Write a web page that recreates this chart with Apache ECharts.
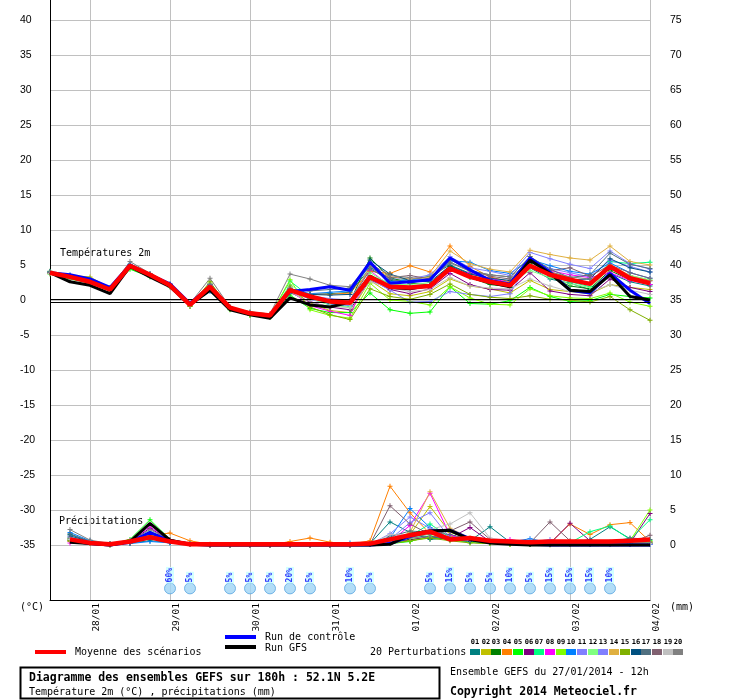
<!DOCTYPE html>
<html>
<head>
<meta charset="utf-8">
<script src="https://cdn.jsdelivr.net/npm/echarts@6/dist/echarts.min.js"></script>
<style>
  html, body { margin: 0; padding: 0; background: #fff; }
  #chart { width: 740px; height: 700px; }
</style>
</head>
<body>
<div id="chart"></div>
<script>
// time axis: 6h steps from 27/01 12h to 04/02 12h (180h)
const dayLabels = ['27/01', '28/01', '29/01', '30/01', '31/01', '01/02', '02/02', '03/02', '04/02'];
const hourLabels = ['00h', '06h', '12h', '18h'];

// temperature 2m (°C), one value per 6h step
const tMean = [3.9, 3.3, 2.6, 1.5, 4.9, 3.6, 2.1, -0.7, 1.9, -1.1, -1.9, -2.2, 1.4, 0.5, -0.2, -0.4, 3.3, 1.9, 1.8, 2.0, 4.5, 3.3, 2.6, 2.1, 4.9, 3.6, 2.9, 2.3, 4.8, 3.1, 2.4];
const tGfs = [3.9, 2.6, 2.1, 0.9, 4.8, 3.3, 1.9, -0.7, 1.4, -1.4, -2.1, -2.6, 0.3, -0.7, -1.0, -0.3, 3.4, 1.8, 1.6, 2.1, 4.6, 3.3, 2.5, 1.9, 5.7, 3.8, 1.4, 1.2, 3.6, 0.5, 0.0];
const tCtrl = [3.9, 3.6, 3.0, 1.8, 5.0, 3.6, 2.3, -0.5, 1.9, -1.2, -1.9, -2.2, 1.2, 1.5, 1.9, 1.4, 5.4, 2.4, 2.6, 2.9, 6.0, 4.3, 2.8, 2.3, 6.0, 4.0, 1.4, 1.0, 3.8, 1.4, -0.5];
const t01 = [4.0, 3.4, 2.7, 1.6, 4.8, 3.5, 2.2, -0.6, 1.8, -1.2, -2.0, -2.3, 1.0, 0.8, 0.9, 1.1, 4.5, 2.8, 2.9, 3.4, 5.0, 3.8, 3.0, 1.8, 4.6, 3.0, 2.4, 1.5, 3.8, 2.6, 2.0];
const t02 = [3.8, 3.5, 3.3, 1.7, 5.0, 3.6, 2.0, -0.7, 2.4, -1.0, -1.7, -2.0, 1.8, -0.5, -1.5, -1.8, 2.8, 0.9, 0.6, 1.2, 3.0, 2.0, 1.6, 1.0, 2.8, 1.5, 1.2, 0.9, 2.2, 1.8, 1.5];
const t03 = [4.1, 3.3, 2.5, 1.4, 4.9, 3.7, 2.2, -0.8, 2.2, -1.2, -2.0, -2.3, 1.5, 0.2, -0.5, -0.3, 6.0, 3.2, 2.4, 2.2, 4.8, 3.2, 2.2, 1.9, 5.2, 3.3, 2.0, 1.6, 4.2, 2.9, 2.2];
const t04 = [3.9, 3.2, 2.6, 1.4, 4.7, 3.4, 2.0, -0.9, 1.9, -1.3, -2.1, -2.4, 1.2, 0.9, 0.8, 1.0, 4.1, 3.8, 4.9, 4.0, 7.7, 4.8, 3.3, 2.6, 6.2, 4.0, 3.2, 2.2, 5.0, 3.5, 2.8];
const t05 = [3.7, 3.0, 2.4, 1.3, 4.4, 3.3, 1.9, -0.9, 1.6, -1.4, -2.2, -2.5, 0.7, -1.2, -1.8, -1.8, 1.0, -1.4, -1.9, -1.7, 1.9, -0.5, -0.6, -0.1, 1.8, 0.5, -0.2, -0.1, 0.8, 0.5, 0.3];
const t06 = [3.8, 3.1, 2.5, 1.4, 4.8, 3.6, 2.0, -0.8, 1.7, -1.2, -2.0, -2.3, 1.1, -0.3, -1.0, -1.4, 2.9, 1.5, 0.9, 1.6, 3.8, 2.2, 1.5, 1.4, 3.9, 1.3, 0.8, 0.6, 3.0, 1.8, 1.2];
const t07 = [3.9, 3.3, 2.7, 1.6, 4.8, 3.5, 2.2, -0.6, 2.0, -1.1, -1.9, -2.2, 2.7, 0.5, -0.6, -0.9, 3.5, 2.4, 1.9, 2.1, 4.3, 3.2, 2.7, 2.2, 5.0, 3.4, 2.6, 1.9, 5.5, 5.2, 5.4];
const t08 = [3.8, 3.4, 2.6, 1.5, 4.9, 3.6, 2.1, -0.7, 2.1, -1.1, -1.9, -2.3, 1.4, -0.8, -1.6, -2.2, 4.2, 2.0, 1.5, 1.9, 4.1, 3.9, 3.1, 2.5, 5.5, 4.2, 3.6, 3.2, 3.9, 2.8, 2.2];
const t09 = [3.9, 3.2, 2.5, 1.4, 4.7, 3.5, 2.0, -0.8, 2.4, -1.2, -2.0, -2.3, 2.9, -1.4, -2.2, -2.6, 2.4, 0.0, -0.2, -0.7, 1.9, 0.3, -0.6, -0.7, 1.6, 0.6, 0.3, 0.2, 1.0, -0.3, -0.9];
const t10 = [4.0, 3.6, 3.0, 1.8, 5.1, 3.7, 2.3, -0.5, 1.2, -1.1, -1.8, -2.1, 1.6, 0.9, 1.1, 1.3, 5.0, 2.6, 2.9, 2.8, 5.6, 5.4, 4.2, 3.8, 5.8, 4.9, 4.1, 3.7, 5.3, 3.9, 3.1];
const t11 = [3.9, 3.4, 2.8, 1.7, 5.0, 3.6, 2.2, -0.7, 2.0, -1.0, -1.8, -2.1, 1.3, 0.1, -0.6, -0.8, 3.0, 1.4, -0.3, -0.2, 1.2, 0.8, 0.5, 0.9, 5.6, 4.5, 3.9, 3.3, 5.7, 4.8, 4.0];
const t12 = [4.0, 3.3, 2.6, 1.5, 4.9, 3.6, 2.2, -0.6, 1.9, -1.1, -1.9, -2.2, 2.2, 0.3, -0.8, -1.0, 3.9, 2.2, 2.2, 2.5, 4.6, 3.2, 2.8, 2.5, 4.2, 3.2, 2.3, 1.8, 4.5, 3.5, 2.9];
const t13 = [3.9, 3.3, 2.7, 1.6, 5.0, 3.7, 2.3, -0.6, 2.3, -1.1, -1.9, -2.2, 1.7, 0.6, 0.2, 0.0, 4.6, 3.2, 3.0, 3.6, 6.2, 4.6, 4.1, 3.5, 6.8, 5.9, 5.1, 4.5, 7.0, 5.2, 4.4];
const t14 = [3.8, 3.2, 2.6, 1.5, 4.8, 3.5, 2.1, -0.8, 2.0, -1.2, -2.0, -2.3, 1.4, 0.4, -0.1, -0.3, 4.8, 3.3, 3.0, 3.3, 7.0, 5.2, 4.4, 4.0, 7.1, 6.5, 6.0, 5.7, 7.7, 5.5, 5.0];
const t15 = [3.8, 3.1, 2.4, 1.3, 4.6, 3.4, 1.9, -0.9, 2.6, -1.3, -2.1, -2.4, 2.0, -1.0, -2.1, -2.8, 1.6, 0.5, 0.1, 0.8, 2.3, 0.8, 0.4, 0.2, 0.6, 0.1, 0.0, -0.3, 0.5, -1.4, -2.9];
const t16 = [4.0, 3.4, 2.8, 1.6, 5.0, 3.6, 2.2, -0.6, 1.9, -1.1, -1.9, -2.2, 1.3, 0.8, 0.7, 0.8, 5.7, 3.7, 2.8, 2.6, 4.9, 3.7, 3.1, 2.8, 5.0, 3.7, 2.9, 3.0, 5.9, 4.6, 4.0];
const t17 = [3.9, 3.3, 2.6, 1.5, 4.9, 3.6, 2.1, -0.7, 2.0, -1.1, -1.9, -2.2, 1.5, 1.3, 1.5, 1.7, 4.7, 3.0, 2.4, 3.1, 5.4, 4.2, 3.6, 3.3, 6.2, 4.4, 3.2, 3.6, 6.7, 5.1, 4.5];
const t18 = [3.9, 3.3, 2.6, 1.5, 4.9, 3.6, 2.1, -0.7, 2.1, -1.1, -1.9, -2.2, 1.6, 0.4, -0.1, -0.1, 4.3, 3.2, 3.5, 3.0, 5.8, 4.2, 3.4, 3.0, 5.4, 4.2, 4.6, 3.4, 5.0, 3.9, 3.1];
const t19 = [3.8, 3.3, 2.6, 1.5, 4.8, 3.4, 1.9, -0.8, 1.8, -1.2, -2.0, -2.4, 1.2, -0.4, -0.9, -1.1, 2.6, 1.8, 1.2, 1.5, 3.2, 2.0, 1.7, 1.6, 3.0, 2.0, 1.2, 1.1, 2.2, 1.4, 0.8];
const t20 = [4.0, 3.4, 2.7, 1.6, 5.5, 3.8, 2.3, -0.5, 3.1, -1.0, -1.7, -2.0, 3.7, 3.0, 2.1, 1.9, 5.2, 3.5, 3.2, 2.9, 5.3, 4.1, 3.6, 3.3, 5.4, 4.0, 3.3, 3.0, 4.4, 3.3, 2.7];

// precipitation (mm per 6h), first step has no value
const pMean = [null, 0.8, 0.3, 0.1, 0.5, 1.1, 0.5, 0.1, 0.1, 0.1, 0.1, 0.1, 0.1, 0.1, 0.1, 0.1, 0.2, 0.8, 1.4, 1.9, 0.8, 1.0, 0.6, 0.5, 0.4, 0.5, 0.5, 0.5, 0.5, 0.6, 0.8];
const pGfs = [null, 0.4, 0.2, 0, 0.5, 3.1, 0.7, 0.1, 0, 0, 0, 0, 0, 0, 0, 0, 0, 0.1, 1.5, 2.0, 2.1, 0.8, 0.3, 0.1, 0, 0, 0, 0, 0, 0, 0];
const pCtrl = [null, 0.6, 0.2, 0, 0.4, 1.8, 0.6, 0.1, 0, 0, 0, 0, 0, 0, 0, 0, 0, 0.2, 1.2, 2.0, 2.1, 0.9, 0.4, 0.2, 0.1, 0, 0, 0, 0, 0, 0];
const p01 = [null, 1.5, 0.5, 0.1, 0.3, 0.6, 0.4, 0.1, 0, 0, 0, 0, 0, 0, 0, 0, 0.2, 3.3, 1.8, 0.8, 1.0, 0.6, 2.6, 0.4, 0.1, 0.1, 0.3, 0.8, 2.6, 0.9, 0.3];
const p02 = [null, 0.5, 0.3, 0, 0.4, 1.2, 0.6, 0.1, 0, 0, 0, 0, 0, 0, 0, 0, 0.1, 0.6, 1.5, 5.5, 1.8, 0.9, 0.3, 0.2, 0.1, 0, 0.1, 0.1, 0.2, 0.1, 0.2];
const p03 = [null, 0.8, 0.3, 0, 0.3, 1.5, 0.5, 0.1, 0, 0, 0, 0, 0, 0, 0, 0, 0.1, 0.4, 0.8, 1.0, 0.9, 0.5, 0.3, 0.2, 0.1, 0.1, 0.1, 0.1, 0.2, 0.1, 0.1];
const p04 = [null, 0.9, 0.4, 0.1, 0.3, 1.4, 1.7, 0.6, 0.1, 0, 0, 0, 0.5, 1.0, 0.4, 0.1, 0.6, 8.4, 4.6, 1.6, 1.2, 0.6, 0.4, 0.3, 0.1, 0.3, 3.0, 1.5, 2.9, 3.2, 0.5];
const p05 = [null, 0.7, 0.3, 0.1, 0.8, 3.6, 0.8, 0.1, 0, 0, 0, 0, 0, 0, 0, 0, 0.1, 0.2, 0.5, 1.3, 0.8, 0.4, 0.2, 0.1, 0.1, 0.1, 0.2, 0.2, 0.2, 0.5, 0.6];
const p06 = [null, 0.6, 0.3, 0.1, 0.5, 2.4, 0.7, 0.1, 0, 0, 0, 0, 0, 0, 0, 0, 0.1, 0.3, 0.7, 1.2, 1.0, 2.5, 0.5, 0.2, 0.1, 0.2, 3.1, 0.6, 0.3, 0.3, 4.5];
const p07 = [null, 0.9, 0.4, 0.1, 0.3, 1.6, 0.6, 0.1, 0, 0, 0, 0, 0, 0, 0, 0, 0.1, 0.5, 1.3, 3.0, 1.1, 0.5, 0.3, 0.2, 0.1, 0.1, 0.3, 1.9, 2.7, 0.8, 3.6];
const p08 = [null, 0.3, 0.2, 0.1, 0.6, 2.6, 0.7, 0.1, 0, 0, 0, 0, 0, 0, 0, 0, 0.1, 0.4, 2.8, 7.4, 1.4, 0.6, 0.8, 0.8, 0.3, 0.2, 0.2, 0.2, 0.2, 0.1, 0.2];
const p09 = [null, 0.7, 0.3, 0.1, 0.4, 1.8, 0.5, 0.1, 0, 0, 0, 0, 0, 0, 0, 0, 0.1, 0.3, 0.6, 1.1, 0.7, 0.4, 0.2, 0.1, 0.1, 0.1, 0.1, 0.2, 0.3, 0.6, 5.0];
const p10 = [null, 1.8, 0.6, 0.1, 0.2, 0.5, 0.3, 0.1, 0, 0, 0, 0, 0, 0, 0, 0.3, 0.2, 1.0, 5.2, 2.5, 0.9, 0.6, 0.4, 0.4, 0.9, 0.3, 0.2, 0.1, 0.1, 0.1, 0.1];
const p11 = [null, 0.8, 0.4, 0.1, 0.3, 1.3, 0.5, 0.1, 0, 0, 0, 0, 0, 0, 0, 0, 0.1, 0.8, 3.2, 4.6, 1.0, 0.6, 0.3, 0.2, 0.4, 0.8, 0.3, 0.1, 0.1, 0.1, 0.1];
const p12 = [null, 1.0, 0.4, 0.1, 0.4, 1.9, 0.6, 0.1, 0, 0, 0, 0, 0, 0, 0, 0, 0.1, 0.4, 1.0, 1.6, 0.8, 0.5, 0.3, 0.2, 0.2, 0.1, 0.2, 0.2, 0.4, 0.3, 0.4];
const p13 = [null, 1.1, 0.5, 0.1, 0.3, 1.5, 0.5, 0.1, 0, 0, 0, 0, 0, 0, 0, 0, 0.1, 1.6, 4.0, 2.4, 0.9, 0.7, 0.4, 0.3, 0.6, 0.4, 0.2, 0.1, 0.1, 0.1, 0.1];
const p14 = [null, 0.8, 0.3, 0.1, 0.4, 1.6, 0.8, 0.2, 0, 0, 0, 0, 0, 0, 0, 0, 0.1, 0.5, 1.8, 7.6, 2.4, 1.0, 0.4, 0.3, 0.2, 0.2, 0.4, 0.3, 0.3, 0.2, 0.3];
const p15 = [null, 0.6, 0.3, 0.1, 0.5, 1.4, 0.6, 0.1, 0, 0, 0, 0, 0, 0, 0, 0, 0.1, 0.2, 0.6, 1.0, 0.6, 0.3, 0.2, 0.1, 0.1, 0.1, 0.1, 0.1, 0.1, 0.2, 0.3];
const p16 = [null, 1.3, 0.5, 0.1, 0.3, 0.9, 0.4, 0.1, 0, 0, 0, 0, 0, 0, 0, 0, 0.1, 0.7, 1.4, 1.2, 0.8, 0.5, 0.4, 0.2, 0.1, 0.1, 0.2, 0.2, 0.3, 0.2, 0.2];
const p17 = [null, 1.6, 0.5, 0.1, 0.3, 1.2, 0.5, 0.1, 0, 0, 0, 0, 0, 0, 0, 0, 0.2, 1.2, 2.0, 1.8, 1.5, 0.8, 0.5, 0.3, 0.2, 0.2, 0.3, 0.2, 0.4, 1.0, 0.8];
const p18 = [null, 1.0, 0.4, 0.1, 0.4, 1.7, 0.6, 0.1, 0, 0, 0, 0, 0, 0, 0, 0, 0.1, 5.6, 3.0, 1.5, 2.0, 3.3, 0.8, 0.4, 0.3, 3.3, 0.6, 0.2, 0.2, 0.3, 1.4];
const p19 = [null, 0.8, 0.4, 0.1, 0.5, 1.8, 0.7, 0.1, 0, 0, 0, 0, 0, 0, 0, 0, 0.1, 1.5, 1.4, 2.2, 3.0, 4.6, 1.0, 0.5, 0.3, 0.2, 0.2, 0.2, 0.2, 0.2, 0.2];
const p20 = [null, 2.2, 0.7, 0.2, 0.5, 2.2, 0.8, 0.2, 0, 0, 0, 0, 0, 0, 0, 0, 0.2, 0.6, 1.0, 1.2, 1.0, 0.8, 0.6, 0.5, 0.4, 0.3, 0.2, 0.2, 0.3, 0.3, 0.4];

// snow probability (step index, %)
const snowSteps = [6, 7, 9, 10, 11, 12, 13, 15, 16, 19, 20, 21, 22, 23, 24, 25, 26, 27, 28];
const snowPct = [60, 5, 5, 5, 5, 20, 5, 10, 5, 5, 15, 5, 5, 10, 5, 15, 15, 15, 10];

const pertColors = ['#008080', '#c0c000', '#008000', '#ff8000', '#00ff00', '#800080', '#00ff80', '#ff00ff', '#80ff00', '#0080ff',
                    '#8080ff', '#80ff80', '#8080ff', '#e0b040', '#80b000', '#005080', '#507080', '#806070', '#c0c0c0', '#808080'];
const tempMembers = [t01, t02, t03, t04, t05, t06, t07, t08, t09, t10, t11, t12, t13, t14, t15, t16, t17, t18, t19, t20];
const precMembers = [p01, p02, p03, p04, p05, p06, p07, p08, p09, p10, p11, p12, p13, p14, p15, p16, p17, p18, p19, p20];

const MONO = '"DejaVu Sans Mono", monospace';
const SANS = '"Liberation Sans", Arial, sans-serif';
const GRID = '#c0c0c0';
const plusSymbol = 'path://M2,0H3V2H5V3H3V5H2V3H0V2H2Z';

// categories: 27/01 12h, 27/01 18h, 28/01 00h, ...
const categories = [];
for (let i = 0; i < 31; i++) {
    const h = 12 + i * 6;
    categories.push(dayLabels[Math.floor(h / 24)] + ' ' + hourLabels[(h % 24) / 6]);
}

function thinLine(name, data, color, axis) {
    return {
        name: name, type: 'line', data: data, yAxisIndex: axis,
        symbol: plusSymbol, symbolSize: 5, showAllSymbol: true,
        lineStyle: { color: color, width: 1 }, itemStyle: { color: color },
        silent: true, z: 2
    };
}

function thickLine(name, data, color, width, axis, z) {
    return {
        name: name, type: 'line', data: data, yAxisIndex: axis, symbol: 'none',
        lineStyle: { color: color, width: width }, silent: true, z: z
    };
}

const series = [];
tempMembers.forEach((d, k) => series.push(thinLine('T' + (k + 1), d, pertColors[k], 0)));
precMembers.forEach((d, k) => series.push(thinLine('P' + (k + 1), d, pertColors[k], 1)));
series.push(thickLine('Run de contrôle', tCtrl, '#0000ff', 3, 0, 3));
series.push(thickLine('Run GFS', tGfs, '#000000', 3, 0, 4));
series.push(thickLine('Moyenne des scénarios', tMean, '#ff0000', 4.5, 0, 5));
series.push(thickLine('Run de contrôle P', pCtrl, '#0000ff', 3, 1, 3));
series.push(thickLine('Run GFS P', pGfs, '#000000', 3, 1, 4));
series.push(thickLine('Moyenne P', pMean, '#ff0000', 4.5, 1, 5));

// double black line at 0°C
series[0].markLine = {
    silent: true, symbol: 'none', label: { show: false }, animation: false,
    lineStyle: { color: '#000', width: 1, type: 'solid' },
    data: [{ yAxis: 0.16 }, { yAxis: -0.27 }]
};

series.push({
    name: 'neige', type: 'scatter', yAxisIndex: 0, z: 6, silent: true,
    data: snowSteps.map((s, k) => [s, -41.2, snowPct[k]]),
    symbol: 'circle', symbolSize: 11,
    itemStyle: { color: '#9fd4f5', borderColor: '#5aa6e0', borderWidth: 1 },
    label: {
        show: true, position: 'top', distance: 3, rotate: 90,
        align: 'left', verticalAlign: 'middle', offset: [-4, 0],
        formatter: p => p.data[2] + '%',
        color: '#0000ff', fontFamily: MONO, fontSize: 8, fontWeight: 'bold',
        backgroundColor: '#c8ffff', padding: [0, 1]
    }
});

const gridColors = ['rgba(0,0,0,0)'];
for (let i = 0; i < 20; i++) gridColors.push(GRID);

const isMult5 = v => Math.abs(v - Math.round(v)) < 1e-6 && Math.round(v) % 5 === 0;

function label(text, x, y, font) {
    return { type: 'text', x: x, y: y, style: { text: text, font: font || ('10px ' + MONO), fill: '#000', verticalAlign: 'middle', textVerticalAlign: 'middle' } };
}

const graphics = [
    label('Températures 2m', 60, 253),
    label('Précipitations', 59, 521),
    label('(°C)', 20, 607),
    label('(mm)', 670, 607),
    { type: 'line', shape: { x1: 35, y1: 652, x2: 66, y2: 652 }, style: { stroke: '#ff0000', lineWidth: 4 } },
    label('Moyenne des scénarios', 75, 652),
    { type: 'line', shape: { x1: 225, y1: 637, x2: 256, y2: 637 }, style: { stroke: '#0000ff', lineWidth: 4 } },
    label('Run de contrôle', 265, 637),
    { type: 'line', shape: { x1: 225, y1: 647, x2: 256, y2: 647 }, style: { stroke: '#000000', lineWidth: 4 } },
    label('Run GFS', 265, 648),
    label('20 Perturbations', 370, 652),
    { type: 'rect', shape: { x: 20.5, y: 667.5, width: 419, height: 31 }, style: { fill: '#fff', stroke: '#000', lineWidth: 2 } },
    label('Diagramme des ensembles GEFS sur 180h : 52.1N 5.2E', 29, 678, 'bold 11.5px ' + MONO),
    label('Température 2m (°C) , précipitations (mm)', 29, 692),
    label('Ensemble GEFS du 27/01/2014 - 12h', 450, 672),
    label('Copyright 2014 Meteociel.fr', 450, 692, 'bold 11.5px ' + MONO)
];
pertColors.forEach((c, k) => {
    const x = Math.round(470 + k * 10.7);
    graphics.push({ type: 'rect', shape: { x: x, y: 649, width: 10, height: 6 }, style: { fill: c } });
    graphics.push({ type: 'text', x: x + 5, y: 642, style: { text: String(k + 1).padStart(2, '0'), font: 'bold 7px ' + MONO, fill: '#000', align: 'center', textAlign: 'center', verticalAlign: 'middle', textVerticalAlign: 'middle' } });
});

const chart = echarts.init(document.getElementById('chart'), null, { renderer: 'canvas' });
chart.setOption({
    animation: false,
    backgroundColor: '#fff',
    grid: { left: 50, top: 0, width: 600, height: 600 },
    xAxis: {
        type: 'category', data: categories, boundaryGap: false,
        axisLine: { onZero: false, lineStyle: { color: '#000', width: 1 } },
        axisTick: { show: false },
        axisLabel: {
            interval: i => i % 4 === 2, rotate: 90, margin: 3,
            verticalAlign: 'top', padding: [2, 0, 0, 0],
            fontFamily: MONO, fontSize: 9.5, color: '#000',
            formatter: v => v.slice(0, 5)
        },
        splitLine: { show: true, interval: i => i % 4 === 2, lineStyle: { color: GRID, width: 1 } }
    },
    yAxis: [
        {
            type: 'value', min: -300 / 7, max: 300 / 7, splitNumber: 17, minInterval: 5, maxInterval: 5,
            axisLine: { show: true, lineStyle: { color: '#000', width: 1 } },
            axisTick: { show: false },
            axisLabel: {
                margin: 30, align: 'left', color: '#000', fontFamily: SANS, fontSize: 10.5, padding: [5, 0, 0, 0],
                formatter: v => (isMult5(v) && v >= -35 && v <= 40) ? String(Math.round(v)) : ''
            },
            splitLine: { show: true, showMinLine: false, showMaxLine: false, lineStyle: { color: gridColors, width: 1 } }
        },
        {
            type: 'value', position: 'right', min: -55 / 7, max: 545 / 7, splitNumber: 17, minInterval: 5, maxInterval: 5,
            axisLine: { show: true, lineStyle: { color: GRID, width: 1 } },
            axisTick: { show: false },
            axisLabel: {
                margin: 20, align: 'left', color: '#000', fontFamily: SANS, fontSize: 10.5, padding: [5, 0, 0, 0],
                formatter: v => (isMult5(v) && v >= 0 && v <= 75) ? String(Math.round(v)) : ''
            },
            splitLine: { show: false }
        }
    ],
    series: series,
    graphic: graphics
});
</script>
</body>
</html>
